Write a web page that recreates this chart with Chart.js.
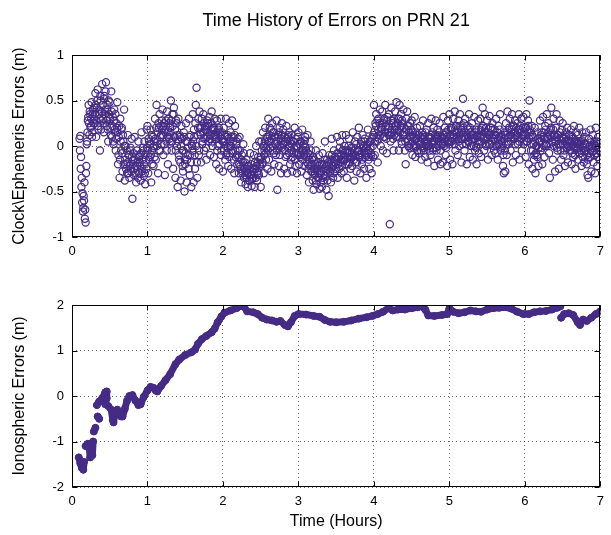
<!DOCTYPE html>
<html>
<head>
<meta charset="utf-8">
<script src="https://cdn.jsdelivr.net/npm/chart.js@4/dist/chart.umd.min.js"></script>
<style>
  html, body { margin: 0; padding: 0; background: #fff; }
  #wrap { position: relative; width: 611px; height: 535px; }
  canvas { position: absolute; left: 0; }
  #clockChart { top: 0; }
  #ionoChart { top: 270px; }
</style>
</head>
<body>
<div id="wrap">
  <canvas id="clockChart" width="611" height="270"></canvas>
  <canvas id="ionoChart" width="611" height="265"></canvas>
</div>
<script>
// Time axis ticks (hours) and value ticks
const hourTicks = [0, 1, 2, 3, 4, 5, 6, 7];
const clockTicks = [-1, -0.5, 0, 0.5, 1];
const ionoTicks = [-2, -1, 0, 1, 2];

// Clock / ephemeris error samples, first pass of epochs
const clockTime = [
  0.10,0.11,0.12,0.13,0.14,0.15,0.16,0.17,0.18,0.19,
  0.20,0.21,0.22,0.23,0.24,0.25,0.26,0.27,0.28,0.29,
  0.30,0.31,0.32,0.33,0.34,0.35,0.36,0.37,0.38,0.39,
  0.40,0.41,0.42,0.43,0.44,0.45,0.46,0.47,0.48,0.49,
  0.50,0.51,0.52,0.53,0.54,0.55,0.56,0.57,0.58,0.59,
  0.60,0.61,0.62,0.63,0.64,0.65,0.66,0.67,0.68,0.69,
  0.70,0.71,0.72,0.73,0.74,0.75,0.76,0.77,0.78,0.79,
  0.80,0.81,0.82,0.83,0.84,0.85,0.86,0.87,0.88,0.89,
  0.90,0.91,0.92,0.93,0.94,0.95,0.96,0.97,0.98,0.99,
  1.00,1.01,1.02,1.03,1.04,1.05,1.06,1.07,1.08,1.09,
  1.10,1.11,1.12,1.13,1.14,1.15,1.16,1.17,1.18,1.19,
  1.20,1.21,1.22,1.23,1.24,1.25,1.26,1.27,1.28,1.29,
  1.30,1.31,1.32,1.33,1.34,1.35,1.36,1.37,1.38,1.39,
  1.40,1.41,1.42,1.43,1.44,1.45,1.46,1.47,1.48,1.49,
  1.50,1.51,1.52,1.53,1.54,1.55,1.56,1.57,1.58,1.59,
  1.60,1.61,1.62,1.63,1.64,1.65,1.66,1.67,1.68,1.69,
  1.70,1.71,1.72,1.73,1.74,1.75,1.76,1.77,1.78,1.79,
  1.80,1.81,1.82,1.83,1.84,1.85,1.86,1.87,1.88,1.89,
  1.90,1.91,1.92,1.93,1.94,1.95,1.96,1.97,1.98,1.99,
  2.00,2.01,2.02,2.03,2.04,2.05,2.06,2.07,2.08,2.09,
  2.10,2.11,2.12,2.13,2.14,2.15,2.16,2.17,2.18,2.19,
  2.20,2.21,2.22,2.23,2.24,2.25,2.26,2.27,2.28,2.29,
  2.30,2.31,2.32,2.33,2.34,2.35,2.36,2.37,2.38,2.39,
  2.40,2.41,2.42,2.43,2.44,2.45,2.46,2.47,2.48,2.49,
  2.50,2.51,2.52,2.53,2.54,2.55,2.56,2.57,2.58,2.59,
  2.60,2.61,2.62,2.63,2.64,2.65,2.66,2.67,2.68,2.69,
  2.70,2.71,2.72,2.73,2.74,2.75,2.76,2.77,2.78,2.79,
  2.80,2.81,2.82,2.83,2.84,2.85,2.86,2.87,2.88,2.89,
  2.90,2.91,2.92,2.93,2.94,2.95,2.96,2.97,2.98,2.99,
  3.00,3.01,3.02,3.03,3.04,3.05,3.06,3.07,3.08,3.09,
  3.10,3.11,3.12,3.13,3.14,3.15,3.16,3.17,3.18,3.19,
  3.20,3.21,3.22,3.23,3.24,3.25,3.26,3.27,3.28,3.29,
  3.30,3.31,3.32,3.33,3.34,3.35,3.36,3.37,3.38,3.39,
  3.40,3.41,3.42,3.43,3.44,3.45,3.46,3.47,3.48,3.49,
  3.50,3.51,3.52,3.53,3.54,3.55,3.56,3.57,3.58,3.59,
  3.60,3.61,3.62,3.63,3.64,3.65,3.66,3.67,3.68,3.69,
  3.70,3.71,3.72,3.73,3.74,3.75,3.76,3.77,3.78,3.79,
  3.80,3.81,3.82,3.83,3.84,3.85,3.86,3.87,3.88,3.89,
  3.90,3.91,3.92,3.93,3.94,3.95,3.96,3.97,3.98,3.99,
  4.00,4.01,4.02,4.03,4.04,4.05,4.06,4.07,4.08,4.09,
  4.10,4.11,4.12,4.13,4.14,4.15,4.16,4.17,4.18,4.19,
  4.20,4.21,4.22,4.23,4.24,4.25,4.26,4.27,4.28,4.29,
  4.30,4.31,4.32,4.33,4.34,4.35,4.36,4.37,4.38,4.39,
  4.40,4.41,4.42,4.43,4.44,4.45,4.46,4.47,4.48,4.49,
  4.50,4.51,4.52,4.53,4.54,4.55,4.56,4.57,4.58,4.59,
  4.60,4.61,4.62,4.63,4.64,4.65,4.66,4.67,4.68,4.69,
  4.70,4.71,4.72,4.73,4.74,4.75,4.76,4.77,4.78,4.79,
  4.80,4.81,4.82,4.83,4.84,4.85,4.86,4.87,4.88,4.89,
  4.90,4.91,4.92,4.93,4.94,4.95,4.96,4.97,4.98,4.99,
  5.00,5.01,5.02,5.03,5.04,5.05,5.06,5.07,5.08,5.09,
  5.10,5.11,5.12,5.13,5.14,5.15,5.16,5.17,5.18,5.19,
  5.20,5.21,5.22,5.23,5.24,5.25,5.26,5.27,5.28,5.29,
  5.30,5.31,5.32,5.33,5.34,5.35,5.36,5.37,5.38,5.39,
  5.40,5.41,5.42,5.43,5.44,5.45,5.46,5.47,5.48,5.49,
  5.50,5.51,5.52,5.53,5.54,5.55,5.56,5.57,5.58,5.59,
  5.60,5.61,5.62,5.63,5.64,5.65,5.66,5.67,5.68,5.69,
  5.70,5.71,5.72,5.73,5.74,5.75,5.76,5.77,5.78,5.79,
  5.80,5.81,5.82,5.83,5.84,5.85,5.86,5.87,5.88,5.89,
  5.90,5.91,5.92,5.93,5.94,5.95,5.96,5.97,5.98,5.99,
  6.00,6.01,6.02,6.03,6.04,6.05,6.06,6.07,6.08,6.09,
  6.10,6.11,6.12,6.13,6.14,6.15,6.16,6.17,6.18,6.19,
  6.20,6.21,6.22,6.23,6.24,6.25,6.26,6.27,6.28,6.29,
  6.30,6.31,6.32,6.33,6.34,6.35,6.36,6.37,6.38,6.39,
  6.40,6.41,6.42,6.43,6.44,6.45,6.46,6.47,6.48,6.49,
  6.50,6.51,6.52,6.53,6.54,6.55,6.56,6.57,6.58,6.59,
  6.60,6.61,6.62,6.63,6.64,6.65,6.66,6.67,6.68,6.69,
  6.70,6.71,6.72,6.73,6.74,6.75,6.76,6.77,6.78,6.79,
  6.80,6.81,6.82,6.83,6.84,6.85,6.86,6.87,6.88,6.89,
  6.90,6.91,6.92,6.93,6.94,6.95,6.96,6.97,6.98,6.99,
  7.00
];
const clockErr = [
  0.08,0.11,-0.12,-0.35,-0.52,-0.68,-0.60,-0.80,-0.84,-0.22,
  0.05,0.28,0.45,0.12,0.35,0.22,0.48,0.15,0.40,0.30,
  0.25,0.58,0.10,0.42,0.62,0.18,0.35,-0.05,0.50,0.28,
  0.68,0.30,0.15,0.55,0.40,0.70,0.22,0.45,0.05,0.35,
  0.48,0.20,0.60,0.10,0.32,0.02,0.40,0.15,-0.05,0.25,
  0.48,-0.20,0.10,-0.35,0.30,-0.05,0.20,-0.28,0.05,0.40,
  -0.38,0.00,-0.20,-0.30,0.12,-0.10,-0.35,-0.05,-0.25,0.08,
  -0.58,-0.15,-0.32,0.10,-0.22,-0.40,-0.05,-0.18,0.05,-0.30,
  -0.10,-0.38,0.15,-0.25,-0.02,-0.33,0.05,-0.42,-0.15,0.18,
  0.22,-0.30,0.05,-0.12,0.18,-0.40,-0.05,0.10,-0.22,0.00,
  0.30,-0.15,0.45,0.05,-0.30,0.20,0.35,-0.05,0.12,0.28,
  0.40,-0.10,0.25,-0.32,0.15,0.05,0.38,-0.20,0.30,0.08,
  0.20,0.50,-0.05,0.35,-0.25,0.42,0.10,-0.35,0.28,0.00,
  -0.45,0.30,-0.15,0.10,-0.38,0.22,-0.05,-0.28,0.15,-0.50,
  -0.20,0.25,-0.40,0.05,-0.10,0.30,-0.32,0.12,-0.45,0.00,
  0.35,-0.40,0.10,-0.25,0.45,0.64,-0.35,0.20,-0.10,0.38,
  0.15,-0.18,0.30,0.05,0.35,-0.05,0.22,0.10,-0.15,0.28,
  0.25,0.05,0.32,-0.10,0.18,0.38,0.00,0.20,-0.12,0.30,
  0.10,-0.20,0.28,0.00,0.18,-0.25,0.15,0.30,-0.05,0.08,
  -0.28,0.20,0.05,-0.15,0.30,-0.08,0.12,-0.22,0.25,0.00,
  0.15,-0.25,0.28,-0.05,0.10,-0.30,0.22,-0.12,0.05,-0.20,
  -0.05,-0.30,0.10,-0.22,-0.40,-0.10,-0.28,0.02,-0.35,-0.18,
  -0.42,-0.15,-0.30,-0.45,-0.22,-0.38,-0.08,-0.32,-0.44,-0.25,
  -0.35,-0.10,-0.45,-0.25,0.00,-0.38,-0.18,-0.30,0.05,-0.22,
  -0.45,0.05,-0.20,0.15,-0.30,-0.05,0.20,-0.15,0.10,-0.25,
  0.30,-0.15,0.20,0.05,-0.28,0.25,-0.05,0.15,-0.20,0.10,
  -0.10,0.28,-0.48,0.12,-0.22,0.20,0.00,-0.30,0.25,-0.05,
  0.18,-0.25,0.05,-0.12,0.22,-0.30,0.10,-0.02,0.15,-0.20,
  -0.15,0.12,-0.28,0.05,-0.08,0.20,-0.22,0.00,-0.30,0.10,
  0.15,-0.20,0.05,-0.10,-0.28,0.18,-0.05,0.02,-0.22,0.10,
  -0.05,-0.32,0.12,-0.20,-0.40,-0.10,0.05,-0.28,-0.15,-0.38,
  -0.48,-0.15,-0.30,-0.05,-0.42,-0.25,-0.35,-0.10,-0.47,-0.20,
  -0.30,-0.45,-0.08,-0.38,-0.20,0.05,-0.33,-0.48,-0.15,-0.25,
  -0.55,-0.10,-0.30,-0.40,0.08,-0.22,-0.35,-0.05,-0.28,-0.15,
  -0.20,0.10,-0.35,-0.08,-0.25,0.05,-0.15,-0.30,0.12,-0.05,
  -0.28,0.00,-0.15,0.12,-0.35,-0.05,-0.20,0.08,-0.12,-0.25,
  -0.02,-0.22,0.15,-0.10,-0.38,0.05,-0.18,-0.28,0.10,-0.05,
  0.20,-0.12,-0.30,0.05,-0.20,0.12,-0.02,-0.25,0.08,-0.10,
  -0.35,0.00,0.18,-0.15,-0.25,0.05,-0.08,-0.30,0.10,-0.12,
  0.45,-0.10,0.25,0.35,0.05,-0.18,0.30,0.15,0.40,0.00,
  0.20,0.38,-0.05,0.28,0.10,0.45,0.22,-0.08,0.32,0.15,
  0.35,-0.86,0.05,0.42,0.18,0.28,-0.05,0.12,0.38,0.22,
  0.48,0.10,0.30,-0.05,0.45,0.20,0.35,0.02,0.25,0.40,
  0.15,-0.05,-0.20,0.30,0.38,0.05,0.22,-0.02,0.25,0.10,
  0.28,-0.10,0.15,0.00,0.32,-0.12,0.08,0.20,-0.05,0.12,
  -0.08,0.22,0.05,-0.15,0.15,0.28,-0.05,0.10,-0.12,0.02,
  0.18,-0.18,0.25,0.00,0.10,-0.10,0.30,0.05,-0.05,0.20,
  -0.22,0.12,0.28,-0.05,0.18,-0.15,0.08,0.25,-0.20,0.02,
  0.10,-0.18,0.32,0.00,0.20,-0.10,0.15,-0.22,0.28,0.05,
  0.35,-0.15,0.20,0.05,-0.20,0.30,0.12,0.38,-0.05,0.22,
  0.15,-0.10,0.28,0.00,0.35,0.18,-0.18,0.08,0.52,0.25,
  -0.05,0.30,0.10,-0.20,0.22,0.05,0.35,-0.12,0.15,0.00,
  0.25,-0.15,0.08,0.32,-0.05,0.18,-0.20,0.12,0.28,-0.08,
  0.05,0.30,-0.12,0.20,0.42,0.10,-0.05,0.35,0.15,0.00,
  0.28,-0.15,0.12,0.33,0.02,0.20,-0.10,0.25,0.08,-0.05,
  0.18,-0.08,0.30,0.00,-0.15,0.22,0.10,0.35,-0.05,0.12,
  0.05,-0.22,-0.30,0.15,-0.28,0.25,-0.10,0.38,0.02,0.20,
  0.30,-0.05,0.15,0.35,-0.18,0.22,0.08,0.28,-0.10,0.12,
  0.25,0.02,0.35,-0.15,0.18,0.30,-0.05,0.12,0.32,0.05,
  0.20,-0.12,0.35,0.05,0.28,-0.20,0.50,0.15,-0.05,0.22,
  -0.25,0.10,-0.15,0.20,-0.30,0.00,-0.10,0.15,-0.22,0.05,
  0.28,-0.05,0.15,-0.20,0.32,0.08,-0.12,0.22,0.00,0.35,
  0.10,0.25,-0.08,-0.35,0.18,0.42,0.05,-0.15,0.30,0.12,
  -0.28,0.20,0.35,-0.05,0.12,-0.25,0.28,0.02,-0.15,0.18,
  0.25,-0.10,0.08,-0.22,0.15,-0.02,0.20,-0.18,0.05,0.12,
  -0.05,0.18,-0.20,0.10,-0.12,0.22,0.00,-0.25,0.15,0.05,
  0.12,-0.15,0.20,-0.08,0.05,-0.22,0.15,-0.02,-0.18,0.10,
  -0.05,0.15,-0.20,-0.32,-0.35,0.08,-0.12,0.18,-0.28,0.00,
  0.12,-0.18,0.05,-0.30,0.20,-0.08,-0.22,0.10,-0.02,-0.15,
  -0.05
];

// Second pass of epochs, half a step later (core of the band)
const clockTimeB = [
  0.105,0.115,0.125,0.135,0.145,0.155,0.165,0.175,0.185,0.195,
  0.205,0.215,0.225,0.235,0.245,0.255,0.265,0.275,0.285,0.295,
  0.305,0.315,0.325,0.335,0.345,0.355,0.365,0.375,0.385,0.395,
  0.405,0.415,0.425,0.435,0.445,0.455,0.465,0.475,0.485,0.495,
  0.505,0.515,0.525,0.535,0.545,0.555,0.565,0.575,0.585,0.595,
  0.605,0.615,0.625,0.635,0.645,0.655,0.665,0.675,0.685,0.695,
  0.705,0.715,0.725,0.735,0.745,0.755,0.765,0.775,0.785,0.795,
  0.805,0.815,0.825,0.835,0.845,0.855,0.865,0.875,0.885,0.895,
  0.905,0.915,0.925,0.935,0.945,0.955,0.965,0.975,0.985,0.995,
  1.005,1.015,1.025,1.035,1.045,1.055,1.065,1.075,1.085,1.095,
  1.105,1.115,1.125,1.135,1.145,1.155,1.165,1.175,1.185,1.195,
  1.205,1.215,1.225,1.235,1.245,1.255,1.265,1.275,1.285,1.295,
  1.305,1.315,1.325,1.335,1.345,1.355,1.365,1.375,1.385,1.395,
  1.405,1.415,1.425,1.435,1.445,1.455,1.465,1.475,1.485,1.495,
  1.505,1.515,1.525,1.535,1.545,1.555,1.565,1.575,1.585,1.595,
  1.605,1.615,1.625,1.635,1.645,1.655,1.665,1.675,1.685,1.695,
  1.705,1.715,1.725,1.735,1.745,1.755,1.765,1.775,1.785,1.795,
  1.805,1.815,1.825,1.835,1.845,1.855,1.865,1.875,1.885,1.895,
  1.905,1.915,1.925,1.935,1.945,1.955,1.965,1.975,1.985,1.995,
  2.005,2.015,2.025,2.035,2.045,2.055,2.065,2.075,2.085,2.095,
  2.105,2.115,2.125,2.135,2.145,2.155,2.165,2.175,2.185,2.195,
  2.205,2.215,2.225,2.235,2.245,2.255,2.265,2.275,2.285,2.295,
  2.305,2.315,2.325,2.335,2.345,2.355,2.365,2.375,2.385,2.395,
  2.405,2.415,2.425,2.435,2.445,2.455,2.465,2.475,2.485,2.495,
  2.505,2.515,2.525,2.535,2.545,2.555,2.565,2.575,2.585,2.595,
  2.605,2.615,2.625,2.635,2.645,2.655,2.665,2.675,2.685,2.695,
  2.705,2.715,2.725,2.735,2.745,2.755,2.765,2.775,2.785,2.795,
  2.805,2.815,2.825,2.835,2.845,2.855,2.865,2.875,2.885,2.895,
  2.905,2.915,2.925,2.935,2.945,2.955,2.965,2.975,2.985,2.995,
  3.005,3.015,3.025,3.035,3.045,3.055,3.065,3.075,3.085,3.095,
  3.105,3.115,3.125,3.135,3.145,3.155,3.165,3.175,3.185,3.195,
  3.205,3.215,3.225,3.235,3.245,3.255,3.265,3.275,3.285,3.295,
  3.305,3.315,3.325,3.335,3.345,3.355,3.365,3.375,3.385,3.395,
  3.405,3.415,3.425,3.435,3.445,3.455,3.465,3.475,3.485,3.495,
  3.505,3.515,3.525,3.535,3.545,3.555,3.565,3.575,3.585,3.595,
  3.605,3.615,3.625,3.635,3.645,3.655,3.665,3.675,3.685,3.695,
  3.705,3.715,3.725,3.735,3.745,3.755,3.765,3.775,3.785,3.795,
  3.805,3.815,3.825,3.835,3.845,3.855,3.865,3.875,3.885,3.895,
  3.905,3.915,3.925,3.935,3.945,3.955,3.965,3.975,3.985,3.995,
  4.005,4.015,4.025,4.035,4.045,4.055,4.065,4.075,4.085,4.095,
  4.105,4.115,4.125,4.135,4.145,4.155,4.165,4.175,4.185,4.195,
  4.205,4.215,4.225,4.235,4.245,4.255,4.265,4.275,4.285,4.295,
  4.305,4.315,4.325,4.335,4.345,4.355,4.365,4.375,4.385,4.395,
  4.405,4.415,4.425,4.435,4.445,4.455,4.465,4.475,4.485,4.495,
  4.505,4.515,4.525,4.535,4.545,4.555,4.565,4.575,4.585,4.595,
  4.605,4.615,4.625,4.635,4.645,4.655,4.665,4.675,4.685,4.695,
  4.705,4.715,4.725,4.735,4.745,4.755,4.765,4.775,4.785,4.795,
  4.805,4.815,4.825,4.835,4.845,4.855,4.865,4.875,4.885,4.895,
  4.905,4.915,4.925,4.935,4.945,4.955,4.965,4.975,4.985,4.995,
  5.005,5.015,5.025,5.035,5.045,5.055,5.065,5.075,5.085,5.095,
  5.105,5.115,5.125,5.135,5.145,5.155,5.165,5.175,5.185,5.195,
  5.205,5.215,5.225,5.235,5.245,5.255,5.265,5.275,5.285,5.295,
  5.305,5.315,5.325,5.335,5.345,5.355,5.365,5.375,5.385,5.395,
  5.405,5.415,5.425,5.435,5.445,5.455,5.465,5.475,5.485,5.495,
  5.505,5.515,5.525,5.535,5.545,5.555,5.565,5.575,5.585,5.595,
  5.605,5.615,5.625,5.635,5.645,5.655,5.665,5.675,5.685,5.695,
  5.705,5.715,5.725,5.735,5.745,5.755,5.765,5.775,5.785,5.795,
  5.805,5.815,5.825,5.835,5.845,5.855,5.865,5.875,5.885,5.895,
  5.905,5.915,5.925,5.935,5.945,5.955,5.965,5.975,5.985,5.995,
  6.005,6.015,6.025,6.035,6.045,6.055,6.065,6.075,6.085,6.095,
  6.105,6.115,6.125,6.135,6.145,6.155,6.165,6.175,6.185,6.195,
  6.205,6.215,6.225,6.235,6.245,6.255,6.265,6.275,6.285,6.295,
  6.305,6.315,6.325,6.335,6.345,6.355,6.365,6.375,6.385,6.395,
  6.405,6.415,6.425,6.435,6.445,6.455,6.465,6.475,6.485,6.495,
  6.505,6.515,6.525,6.535,6.545,6.555,6.565,6.575,6.585,6.595,
  6.605,6.615,6.625,6.635,6.645,6.655,6.665,6.675,6.685,6.695,
  6.705,6.715,6.725,6.735,6.745,6.755,6.765,6.775,6.785,6.795,
  6.805,6.815,6.825,6.835,6.845,6.855,6.865,6.875,6.885,6.895,
  6.905,6.915,6.925,6.935,6.945,6.955,6.965,6.975,6.985,6.995
];
const clockErrB = [
  -0.05,-0.25,-0.45,-0.62,-0.72,-0.55,-0.40,-0.70,-0.30,0.02,
  0.15,0.32,0.25,0.38,0.20,0.30,0.10,0.35,0.25,0.42,
  0.35,0.45,0.28,0.50,0.22,0.40,0.30,0.55,0.18,0.38,
  0.45,0.25,0.52,0.35,0.60,0.28,0.40,0.18,0.50,0.32,
  0.30,0.12,0.38,0.22,0.05,0.28,0.18,0.35,0.08,0.20,
  0.15,-0.10,0.22,-0.15,0.05,0.18,-0.08,0.12,-0.20,0.00,
  -0.15,-0.25,-0.05,-0.18,-0.30,-0.10,-0.22,-0.02,-0.28,-0.12,
  -0.20,-0.08,-0.25,-0.15,-0.30,-0.10,-0.22,-0.35,-0.12,-0.18,
  -0.22,-0.08,-0.28,-0.15,-0.05,-0.20,-0.30,-0.10,-0.25,-0.02,
  -0.05,0.08,-0.15,0.02,-0.10,0.12,-0.20,-0.02,0.05,-0.12,
  0.08,0.20,0.00,0.15,0.25,-0.05,0.10,0.22,0.02,0.18,
  0.12,0.22,0.02,0.18,0.28,-0.05,0.15,0.10,0.25,0.05,
  0.15,0.28,0.05,0.22,0.35,0.10,0.18,-0.05,0.25,0.12,
  0.05,-0.10,0.12,-0.18,0.00,0.08,-0.22,-0.05,0.10,-0.15,
  -0.08,0.05,-0.15,-0.02,-0.25,0.10,-0.10,-0.18,0.02,-0.05,
  0.05,0.18,-0.10,0.25,0.00,-0.18,0.12,0.30,-0.05,0.20,
  0.12,0.20,0.02,0.15,0.25,0.08,0.18,-0.02,0.22,0.10,
  0.15,0.22,0.08,0.12,0.25,0.05,0.18,0.10,0.20,0.12,
  0.08,0.15,-0.05,0.12,0.20,0.02,0.10,-0.10,0.15,0.05,
  0.05,-0.05,0.12,0.00,-0.10,0.10,-0.02,0.08,-0.12,0.05,
  0.00,0.10,-0.08,0.05,-0.15,0.12,-0.05,0.02,-0.10,0.08,
  -0.12,-0.20,-0.05,-0.25,-0.15,-0.30,-0.18,-0.08,-0.25,-0.32,
  -0.28,-0.35,-0.22,-0.30,-0.38,-0.25,-0.32,-0.20,-0.36,-0.28,
  -0.25,-0.30,-0.18,-0.35,-0.22,-0.28,-0.12,-0.32,-0.20,-0.15,
  -0.12,-0.05,-0.18,0.00,-0.10,0.05,-0.08,-0.02,0.08,-0.05,
  0.05,0.12,-0.02,0.18,0.08,0.00,0.15,-0.08,0.10,0.02,
  0.05,-0.05,0.10,0.00,0.15,-0.10,0.08,-0.02,0.12,0.02,
  0.02,0.10,-0.05,0.08,-0.10,0.05,0.12,-0.08,0.00,0.06,
  -0.05,0.02,-0.12,0.05,-0.02,-0.15,0.08,-0.08,0.00,-0.10,
  -0.08,0.02,-0.12,0.05,-0.05,-0.15,0.00,-0.10,0.06,-0.02,
  -0.12,-0.18,-0.08,-0.25,-0.15,-0.22,-0.05,-0.20,-0.28,-0.12,
  -0.25,-0.32,-0.20,-0.38,-0.28,-0.18,-0.35,-0.22,-0.30,-0.40,
  -0.28,-0.20,-0.35,-0.25,-0.32,-0.15,-0.28,-0.22,-0.38,-0.18,
  -0.20,-0.28,-0.15,-0.25,-0.10,-0.22,-0.30,-0.18,-0.12,-0.25,
  -0.15,-0.08,-0.20,-0.12,-0.02,-0.18,-0.10,-0.22,-0.05,-0.15,
  -0.10,-0.15,-0.05,-0.20,-0.08,-0.12,0.00,-0.18,-0.06,-0.14,
  -0.08,-0.12,-0.02,-0.15,-0.05,-0.10,0.02,-0.18,-0.06,-0.12,
  -0.05,-0.10,0.02,-0.08,-0.15,0.00,-0.06,0.05,-0.12,-0.02,
  -0.08,0.02,-0.05,-0.12,0.05,-0.02,-0.10,0.08,0.00,0.12,
  0.15,0.05,0.22,0.10,0.28,0.18,0.08,0.25,0.12,0.20,
  0.18,0.25,0.10,0.30,0.15,0.22,0.08,0.28,0.18,0.12,
  0.20,0.12,0.28,0.15,0.25,0.08,0.30,0.18,0.22,0.10,
  0.18,0.25,0.10,0.30,0.15,0.22,0.05,0.28,0.12,0.20,
  0.12,0.05,0.18,0.08,0.22,0.00,0.15,0.10,0.02,0.18,
  0.05,0.12,-0.02,0.10,0.15,0.00,0.08,-0.05,0.12,0.05,
  0.02,0.10,-0.05,0.08,0.00,0.12,-0.02,0.05,0.15,0.00,
  0.05,0.00,0.10,-0.05,0.08,0.12,0.02,0.15,-0.02,0.06,
  0.05,0.10,-0.02,0.08,0.12,0.00,0.15,0.05,-0.05,0.10,
  0.08,0.02,0.12,0.05,0.15,-0.02,0.10,0.06,0.18,0.02,
  0.12,0.05,0.18,0.08,0.20,0.10,0.02,0.15,0.22,0.08,
  0.10,0.18,0.05,0.12,0.22,0.08,0.15,0.02,0.20,0.10,
  0.08,0.15,0.02,0.12,0.18,0.05,0.10,0.20,0.00,0.12,
  0.05,0.12,0.00,0.08,0.15,-0.02,0.10,0.06,0.18,0.02,
  0.10,0.18,0.05,0.12,0.22,0.08,0.15,0.02,0.20,0.10,
  0.08,0.15,0.02,0.12,0.20,0.05,0.10,0.18,0.00,0.12,
  0.05,0.12,0.00,0.15,0.08,0.02,0.18,0.06,0.10,-0.02,
  0.00,-0.10,0.08,-0.05,0.12,0.02,0.15,0.05,0.10,0.18,
  0.12,0.05,0.18,0.10,0.22,0.08,0.15,0.02,0.20,0.12,
  0.10,0.18,0.05,0.15,0.22,0.08,0.12,0.20,0.02,0.15,
  0.12,0.20,0.05,0.15,0.22,0.08,0.18,0.10,0.02,0.12,
  -0.05,0.02,-0.10,0.05,-0.08,0.00,-0.12,0.08,-0.02,0.05,
  0.05,0.12,-0.02,0.10,0.15,0.00,0.08,0.18,0.02,0.10,
  0.08,0.15,0.02,0.12,0.20,0.05,0.10,0.18,0.00,0.12,
  0.05,0.10,-0.02,0.12,0.02,0.08,0.15,-0.05,0.06,0.10,
  0.02,0.08,-0.05,0.05,0.10,-0.02,0.06,0.00,0.12,-0.04,
  0.00,0.05,-0.08,0.08,-0.02,0.04,-0.10,0.06,-0.04,0.02,
  -0.02,0.04,-0.08,0.02,-0.05,0.06,-0.12,0.00,-0.06,0.03,
  -0.05,0.02,-0.10,-0.15,-0.08,0.00,-0.12,0.04,-0.06,-0.02,
  -0.05,0.02,-0.10,0.00,-0.08,0.05,-0.12,-0.02,0.04,-0.06
];

// Ionospheric error track (null = break in the track)
const ionoTime = [
  0.09,0.11,0.13,0.15,0.16,null,
  0.18,0.21,0.23,0.24,null,0.26,0.28,0.27,null,
  0.29,0.31,null,0.34,0.36,null,
  0.33,0.36,0.40,0.44,0.46,0.46,0.44,0.48,0.52,0.54,
  0.55,0.57,0.60,0.62,0.65,0.67,0.70,0.73,0.76,0.80,
  0.84,0.88,0.91,0.95,1.00,1.04,1.08,1.11,1.13,1.18,
  1.24,1.30,1.37,1.42,1.50,1.58,1.63,1.67,1.72,1.78,
  1.85,1.89,1.93,1.98,2.02,2.10,2.18,2.24,2.28,2.32,
  2.40,2.46,2.52,2.58,2.65,2.71,2.76,2.82,2.86,2.90,
  2.95,3.00,3.10,3.20,3.28,3.35,3.42,3.50,3.60,3.70,
  3.80,3.90,3.98,4.05,4.12,4.19,4.25,4.32,4.41,4.50,
  4.58,4.63,4.68,4.72,4.80,4.90,4.97,5.00,5.05,5.12,
  5.20,5.28,5.35,5.42,5.50,5.58,5.66,5.75,5.82,5.90,
  5.98,6.05,6.12,6.20,6.28,6.36,6.43,6.47,null,
  6.48,6.52,6.58,6.64,6.70,6.73,6.77,6.82,6.88,6.94,7.00
];
const ionoErr = [
  -1.35,-1.48,-1.58,-1.62,-1.45,null,
  -1.10,-1.05,-1.15,-1.35,null,-1.08,-1.00,-1.30,null,
  -0.78,-0.70,null,-0.45,-0.50,null,
  -0.20,-0.12,-0.05,0.08,0.10,-0.05,-0.18,-0.22,-0.30,-0.52,
  -0.58,-0.38,-0.30,-0.40,-0.45,-0.45,-0.28,-0.10,0.00,0.02,
  -0.10,-0.20,-0.18,-0.02,0.12,0.20,0.18,0.12,0.10,0.22,
  0.35,0.48,0.70,0.80,0.90,0.96,1.02,1.15,1.25,1.32,
  1.40,1.48,1.62,1.75,1.83,1.88,1.93,1.98,1.96,1.86,
  1.84,1.80,1.72,1.68,1.66,1.63,1.65,1.56,1.53,1.62,
  1.76,1.80,1.79,1.76,1.74,1.67,1.63,1.62,1.63,1.66,
  1.70,1.73,1.76,1.80,1.85,1.93,1.88,1.90,1.90,1.93,
  1.95,1.97,1.90,1.77,1.76,1.78,1.80,1.93,1.85,1.82,
  1.84,1.88,1.86,1.85,1.90,1.93,1.94,1.95,1.92,1.85,
  1.80,1.80,1.84,1.86,1.87,1.90,1.94,1.97,null,
  1.72,1.80,1.82,1.78,1.62,1.56,1.68,1.65,1.72,1.80,1.86
];

const PURPLE = '#452b86';
const FONT = '"Liberation Sans", Arial, Helvetica, sans-serif';

Chart.defaults.font.family = FONT;
Chart.defaults.color = '#000';

// MATLAB style box with inward ticks on all four sides
const matlabBox = {
  id: 'matlabBox',
  afterDatasetsDraw(chart) {
    const { ctx, chartArea: a, scales } = chart;
    const xs = scales.x, ys = scales.y;
    const L = Math.round(a.left) + 0.5, R = Math.round(a.right) - 0.5;
    const T = Math.round(a.top) + 0.5, B = Math.round(a.bottom) - 0.5;
    ctx.save();
    ctx.strokeStyle = '#000';
    ctx.lineWidth = 1;
    ctx.strokeRect(L, T, R - L, B - T);
    ctx.beginPath();
    xs.ticks.forEach(t => {
      const px = Math.round(xs.getPixelForValue(t.value)) + 0.5;
      ctx.moveTo(px, B); ctx.lineTo(px, B - 5);
      ctx.moveTo(px, T); ctx.lineTo(px, T + 5);
    });
    ys.ticks.forEach(t => {
      const py = Math.round(ys.getPixelForValue(t.value)) + 0.5;
      ctx.moveTo(L, py); ctx.lineTo(L + 5, py);
      ctx.moveTo(R, py); ctx.lineTo(R - 5, py);
    });
    ctx.stroke();
    ctx.restore();
  }
};

function gridOpts() {
  return { color: 'rgba(0,0,0,0.6)', lineWidth: 1, drawTicks: false };
}

function makeAxes(yMin, yMax, yTicks, yTitle, xHeight, xTitle) {
  return {
    x: {
      type: 'linear', min: 0, max: 7,
      afterBuildTicks: s => { s.ticks = hourTicks.map(v => ({ value: v })); },
      ticks: { font: { size: 13 }, padding: 7, maxRotation: 0, callback: v => String(v) },
      grid: gridOpts(),
      border: { display: false, dash: [1, 3] },
      title: xTitle ? { display: true, text: xTitle, font: { size: 16 }, padding: { top: 0, bottom: 4 } } : { display: false },
      afterFit: s => { s.height = xHeight; }
    },
    y: {
      type: 'linear', min: yMin, max: yMax,
      afterBuildTicks: s => { s.ticks = yTicks.map(v => ({ value: v })); },
      ticks: { font: { size: 13 }, padding: 8, callback: v => String(v) },
      grid: gridOpts(),
      border: { display: false, dash: [1, 3] },
      title: { display: true, text: yTitle, font: { size: 16 }, padding: { top: 10, bottom: 0 } },
      afterFit: s => { s.width = 72; }
    }
  };
}

const clockPoints = clockTime.map((t, i) => ({ x: t, y: clockErr[i] }))
  .concat(clockTimeB.map((t, i) => ({ x: t, y: clockErrB[i] })));

new Chart(document.getElementById('clockChart'), {
  type: 'scatter',
  data: {
    datasets: [{
      data: clockPoints,
      borderColor: PURPLE,
      backgroundColor: 'rgba(0,0,0,0)',
      pointRadius: 3.6,
      pointBorderWidth: 1.2,
      pointHoverRadius: 3.6
    }]
  },
  options: {
    responsive: false,
    animation: false,
    devicePixelRatio: 1,
    layout: { padding: { left: 0, right: 3, top: 0, bottom: 0 } },
    plugins: {
      legend: { display: false },
      tooltip: { enabled: false },
      title: {
        display: true,
        text: 'Time History of Errors on PRN 21',
        fullSize: false,
        color: '#000',
        font: { size: 18, weight: 'normal' },
        padding: { top: 10, bottom: 23.4 }
      }
    },
    scales: makeAxes(-1, 1, clockTicks, 'Clock\\Ephemeris Errors (m)', 33, null)
  },
  plugins: [matlabBox]
});

new Chart(document.getElementById('ionoChart'), {
  type: 'scatter',
  data: {
    datasets: [{
      data: ionoTime.map((t, i) => ({ x: t, y: ionoErr[i] })),
      showLine: true,
      spanGaps: false,
      borderColor: PURPLE,
      backgroundColor: PURPLE,
      borderWidth: 7,
      borderCapStyle: 'round',
      borderJoinStyle: 'round',
      pointRadius: 3.5,
      pointBorderWidth: 1,
      pointHoverRadius: 3.5
    }]
  },
  options: {
    responsive: false,
    animation: false,
    devicePixelRatio: 1,
    layout: { padding: { left: 0, right: 3, top: 35, bottom: 0 } },
    plugins: {
      legend: { display: false },
      tooltip: { enabled: false }
    },
    scales: makeAxes(-2, 2, ionoTicks, 'Ionospheric Errors (m)', 48, 'Time (Hours)')
  },
  plugins: [matlabBox]
});
</script>
</body>
</html>
